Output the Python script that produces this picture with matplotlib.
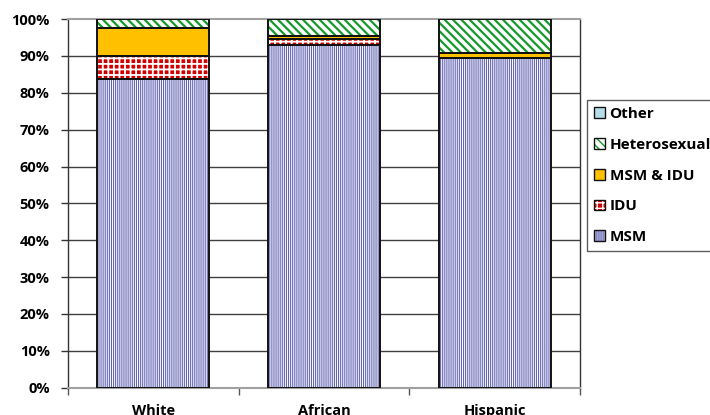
import matplotlib
matplotlib.use("Agg")
import matplotlib.pyplot as plt
from matplotlib.patches import Patch
from matplotlib.legend_handler import HandlerTuple
import numpy as np

categories = ["White", "African\nAmerican", "Hispanic"]
msm = [83.8, 92.9, 89.4]
idu = [6.1, 1.7, 0.0]
msm_idu = [7.7, 0.9, 1.4]
hetero = [2.4, 4.5, 9.2]
other = [0.0, 0.0, 0.0]
ytick_labels = ["0%", "10%", "20%", "30%", "40%", "50%", "60%", "70%", "80%", "90%", "100%"]

series = [
    ("MSM", msm, dict(face="white", hatch="||||||||", hcolor="#6264b4", hlw=0.8)),
    ("IDU", idu, dict(face="#d00000", hatch="+++", hcolor="white", hlw=1.3)),
    ("MSM & IDU", msm_idu, dict(face="#FFC000", hatch=None, hcolor="#FFC000", hlw=1.0)),
    ("Heterosexual", hetero, dict(face="white", hatch="\\\\\\\\", hcolor="#139a2a", hlw=1.6)),
    ("Other", other, dict(face="#B7DEE8", hatch=None, hcolor="#B7DEE8", hlw=1.0)),
]

plt.rcParams['font.family'] = ['Open Sans', 'DejaVu Sans']
plt.rcParams['font.weight'] = 'bold'

fig = plt.figure(figsize=(7.10, 4.15), dpi=100)
ax = fig.add_axes([0.0954, 0.0658, 0.8173 - 0.0954, 0.954 - 0.0658])

x = np.arange(len(categories))
width = 0.655
bottom = np.zeros(len(categories))
handles = []
for name, vals, st in series:
    vals = np.array(vals, dtype=float)
    with plt.rc_context({'hatch.linewidth': st['hlw']}):
        ax.bar(x, vals, width, bottom=bottom, color=st['face'],
               edgecolor=st['hcolor'], hatch=st['hatch'], linewidth=0, zorder=2)
        hp = Patch(facecolor=st['face'], edgecolor=st['hcolor'], hatch=st['hatch'], linewidth=0)
    ax.bar(x, vals, width, bottom=bottom, facecolor='none',
           edgecolor=['#111111' if v > 0 else 'none' for v in vals], linewidth=1.4, zorder=3)
    op = Patch(facecolor='none', edgecolor='#111111', linewidth=1.0)
    handles.append(((hp, op), name))
    bottom += vals

ax.set_xlim(-0.5, len(categories) - 0.5)
ax.set_ylim(0, 100)
ax.set_yticks(np.arange(0, 101, 10))
ax.set_yticklabels(ytick_labels, fontsize=10.5, fontweight='bold')
ax.set_xticks(x)
ax.set_xticklabels(categories, fontsize=10.5, fontweight='bold')
ax.set_xticks(np.arange(-0.5, len(categories), 1.0), minor=True)
ax.tick_params(axis='x', which='major', length=0, pad=12)
ax.tick_params(axis='x', which='minor', length=5, color='#555555', width=1, direction='out')
ax.tick_params(axis='y', which='major', length=5, color='#333333', width=1, pad=8)

for yv in range(10, 100, 10):
    ax.axhline(yv, color='#404040', linewidth=1, zorder=1)

for s in ['left', 'right']:
    ax.spines[s].set_color('#333333')
    ax.spines[s].set_linewidth(1)
ax.spines['top'].set_color('#a0a0a0')
ax.spines['top'].set_linewidth(1.5)
ax.spines['bottom'].set_color('#a0a0a0')
ax.spines['bottom'].set_linewidth(1.5)

h_list = [h for h, n in handles][::-1]
n_list = [n for h, n in handles][::-1]
leg = fig.legend(h_list, n_list, loc='upper left', bbox_to_anchor=(0.8263, 0.759),
                 borderaxespad=0, frameon=True, fancybox=False, shadow=False,
                 prop={'weight': 'bold', 'size': 11},
                 handler_map={tuple: HandlerTuple(ndivide=1)},
                 handlelength=0.75, handleheight=0.7, handletextpad=0.3,
                 labelspacing=1.1, borderpad=0.45)
leg.get_frame().set_edgecolor('#333333')
leg.get_frame().set_linewidth(1)

fig.savefig("out.png", dpi=100)
